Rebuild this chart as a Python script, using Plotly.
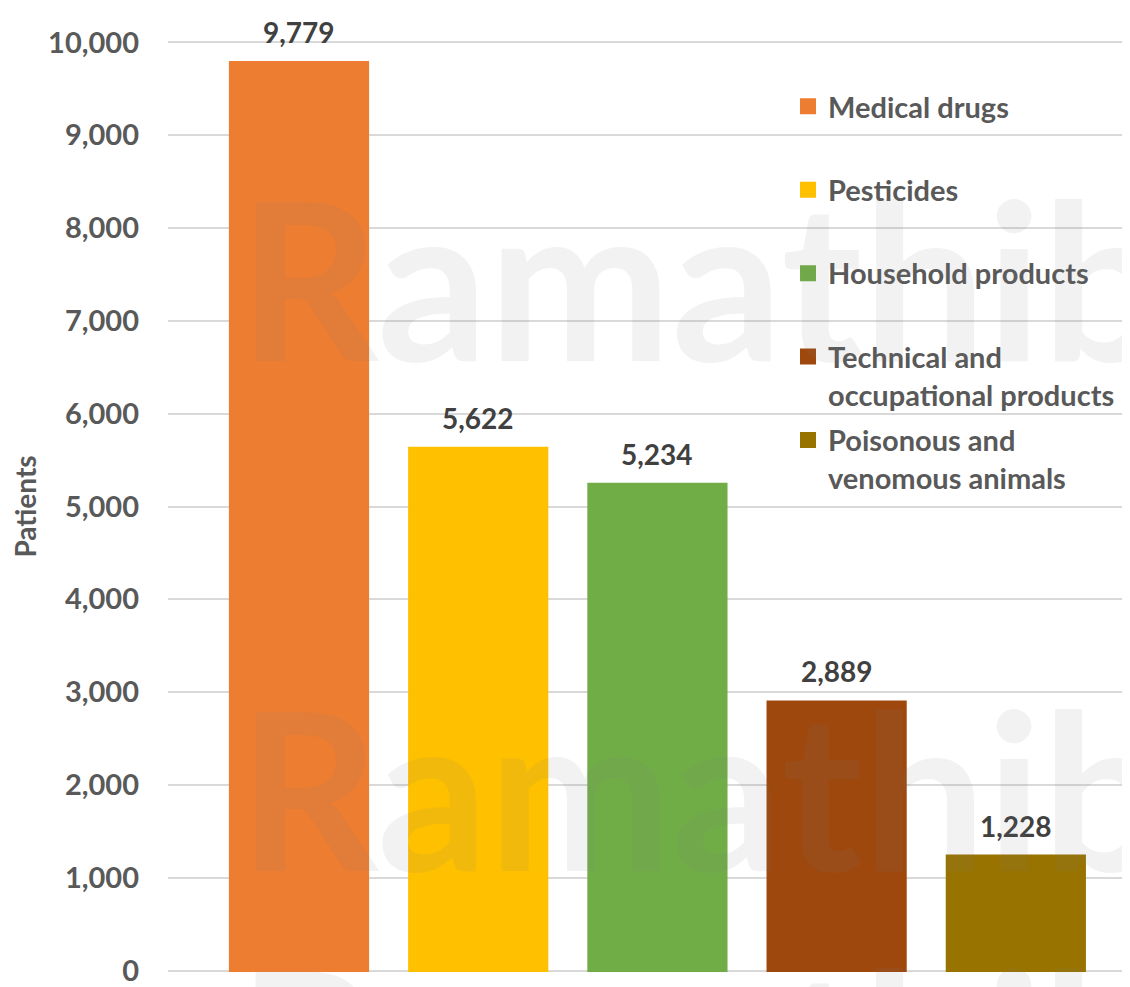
import plotly.graph_objects as go

categories = ["Medical drugs", "Pesticides", "Household products",
              "Technical and occupational products", "Poisonous and venomous animals"]
legend_labels = ["Medical drugs<br> ", "Pesticides<br> ", "Household products<br> ",
                 "Technical and<br>occupational products", "Poisonous and<br>venomous animals"]
patients = [9779, 5622, 5234, 2889, 1228]
colors = ["#ED7D31", "#FFC000", "#70AD47", "#9E480E", "#997300"]
y_ticks = [0, 1000, 2000, 3000, 4000, 5000, 6000, 7000, 8000, 9000, 10000]
y_tick_labels = ["0", "1,000", "2,000", "3,000", "4,000", "5,000", "6,000",
                 "7,000", "8,000", "9,000", "10,000"]
watermark = "Ramathibodi"

FONT = "Lato"
OFF = 8  # page body margin
W, H = 1130 - OFF, 987 - OFF
L, R, T, B = 168 - OFF, 0, 41 - OFF, 15
PAD = 15  # small range padding so the end gridlines are drawn

fig = go.Figure()
for i, (cat, lab, val, col) in enumerate(zip(categories, legend_labels, patients, colors)):
    fig.add_trace(go.Bar(
        x=[cat], y=[val], name=lab, legendgroup=f"g{i}",
        marker=dict(color=col, line=dict(color=col, width=4)),
        hoverinfo="skip",
    ))

annotations = []
for cat, val in zip(categories, patients):
    annotations.append(dict(
        x=cat, y=val, xref="x", yref="y", text=f"{val:,}", showarrow=False,
        yanchor="bottom", yshift=12,
        font=dict(family=FONT, size=28, color="#404040", weight="bold"),
    ))

pw, ph = W - L - R, H - T - B
for top_px in [198, 708, 967]:
    annotations.append(dict(
        x=(236 - OFF - L) / pw, y=1 - ((top_px - OFF + 78) - T) / ph,
        xref="paper", yref="paper",
        text=watermark, showarrow=False, xanchor="left", yanchor="middle",
        font=dict(family=FONT, size=219, color="rgba(128,128,128,0.10)", weight="bold"),
    ))

fig.update_layout(
    width=W, height=H,
    margin=dict(l=L, r=R, t=T, b=B, autoexpand=False),
    paper_bgcolor="white", plot_bgcolor="white",
    barmode="overlay", bargap=0.24,
    showlegend=True,
    legend=dict(
        xref="container", yref="container", x=(788 - OFF) / W, y=1 - (81 - OFF) / H,
        xanchor="left", yanchor="top", valign="top",
        font=dict(family=FONT, size=29, color="#595959", weight="bold"),
        tracegroupgap=5, bgcolor="rgba(0,0,0,0)",
    ),
    xaxis=dict(
        type="category", range=[-0.731, 4.637], showticklabels=False,
        showgrid=False, zeroline=False, showline=False, ticks="",
    ),
    yaxis=dict(
        range=[-PAD, 10000 + PAD], tickvals=y_ticks, ticktext=y_tick_labels,
        showgrid=True, gridcolor="#D9D9D9", gridwidth=2,
        zeroline=False, showline=False, ticks="", ticklabelstandoff=28,
        ticklabeloverflow="allow",
        tickfont=dict(family=FONT, size=29, color="#595959", weight="bold"),
        title=dict(text="Patients", standoff=18,
                   font=dict(family=FONT, size=28, color="#595959", weight="bold")),
        automargin=False,
    ),
    annotations=annotations,
)

fig.write_html("out.html")
